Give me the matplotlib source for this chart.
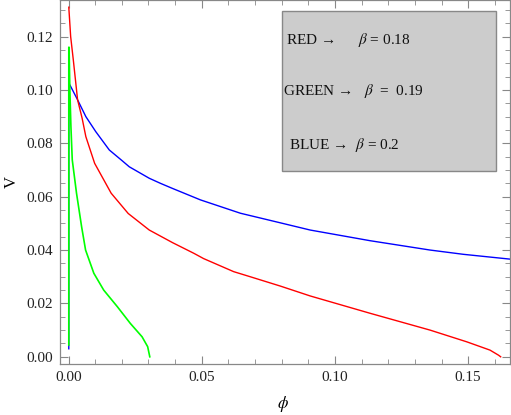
import matplotlib
matplotlib.use("Agg")
import matplotlib.pyplot as plt
from matplotlib.ticker import MultipleLocator, FormatStrFormatter

plt.rcParams['font.family'] = ['Liberation Serif', 'DejaVu Serif']
plt.rcParams['mathtext.fontset'] = 'stix'

# values
phi_red = [0.0001, 0.0008, 0.0018, 0.0034, 0.0051, 0.0065, 0.0098, 0.016, 0.0224,
           0.0303, 0.039, 0.047, 0.0507, 0.062, 0.0682, 0.0795, 0.0907, 0.1132,
           0.1357, 0.1495, 0.1582, 0.1614, 0.1622]
v_red = [0.131, 0.120, 0.1112, 0.0963, 0.0894, 0.0825, 0.0725, 0.0613, 0.0537,
         0.0475, 0.0428, 0.0388, 0.0368, 0.0319, 0.0300, 0.0265, 0.0228, 0.0163,
         0.0100, 0.0056, 0.0025, 0.0006, 0.0]

phi_blue = [0.0001, 0.0001, 0.0005, 0.0034, 0.0065, 0.0102, 0.0153, 0.0201, 0.0228,
            0.0303, 0.0345, 0.039, 0.0495, 0.0645, 0.0795, 0.0907, 0.1132, 0.1357,
            0.1482, 0.1657]
v_blue = [0.003, 0.100, 0.1019, 0.0963, 0.0900, 0.0844, 0.0775, 0.0735, 0.0712,
          0.0669, 0.0650, 0.0631, 0.0588, 0.0538, 0.0502, 0.0475, 0.0435, 0.0400,
          0.0384, 0.0366]

phi_green = [0.0001, 0.0001, 0.0002, 0.0005, 0.0009, 0.0014, 0.003, 0.0049, 0.0064,
             0.0095, 0.0132, 0.0183, 0.0232, 0.0276, 0.0297, 0.0305]
v_green = [0.0044, 0.116, 0.116, 0.100, 0.0862, 0.0738, 0.0613, 0.0488, 0.040,
           0.0313, 0.025, 0.0188, 0.0125, 0.0075, 0.0038, 0.0]

labels = ["RED \u2192      $\\beta$ = 0.18",
          "GREEN \u2192   $\\beta$  =  0.19",
          "BLUE \u2192  $\\beta$ = 0.2"]

fig = plt.figure(figsize=(5.11, 4.15), dpi=100)
ax = fig.add_axes([60 / 511, 51 / 415, 450 / 511, 364 / 415])

ax.plot(phi_blue, v_blue, color='#0000ff', lw=1.0)
ax.plot(phi_red, v_red, color='#ff0000', lw=1.0)
ax.plot(phi_green, v_green, color='#00ff00', lw=1.2)

ax.set_xlim(-0.0032, 0.1657)
ax.set_ylim(-0.0027, 0.1337)

ax.xaxis.set_major_locator(MultipleLocator(0.05))
ax.xaxis.set_minor_locator(MultipleLocator(0.01))
ax.yaxis.set_major_locator(MultipleLocator(0.02))
ax.yaxis.set_minor_locator(MultipleLocator(0.005))
ax.xaxis.set_major_formatter(FormatStrFormatter('%.2f'))
ax.yaxis.set_major_formatter(FormatStrFormatter('%.2f'))

for s in ax.spines.values():
    s.set_color('#888888')
    s.set_linewidth(0.9)
ax.tick_params(which='both', direction='in', top=True, right=True,
               color='#888888', labelsize=11, labelcolor='#222222')
ax.tick_params(which='major', length=6, width=0.8, pad=5)
ax.tick_params(which='minor', length=3.5, width=0.6)

ax.set_xlabel('$\\phi$', fontsize=12)
ax.set_ylabel('V', fontsize=12)
ax.xaxis.set_label_coords((283 - 60) / 450, (364 - 394) / 364)
ax.yaxis.set_label_coords((20 - 60) / 450, 0.5)

# gray legend box
box = plt.Rectangle((282 / 511, 1 - 171 / 415), 214 / 511, 160 / 415,
                    transform=fig.transFigure, facecolor='#cccccc',
                    edgecolor='#888888', lw=1.0, zorder=5)
fig.patches.append(box)
ypos = [40, 91, 145]
xpos = [286, 283, 289]
for t, x, y in zip(labels, xpos, ypos):
    fig.text(x / 511, 1 - y / 415, t, fontsize=11, va='center', ha='left',
             color='#111111', zorder=6)

fig.savefig('out.png', dpi=100)
